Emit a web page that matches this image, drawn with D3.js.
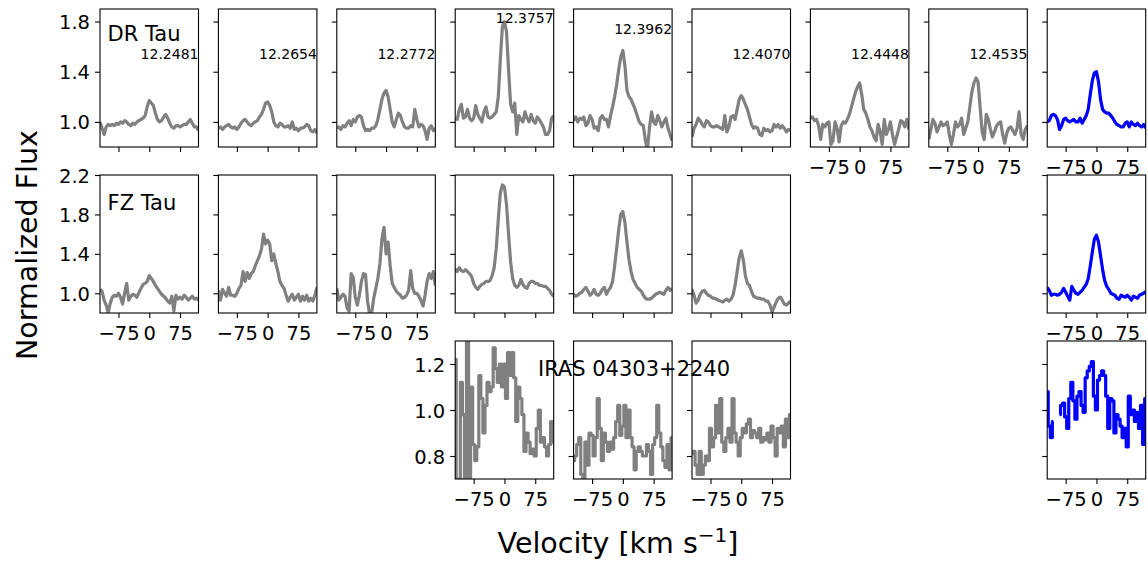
<!DOCTYPE html>
<html><head><meta charset="utf-8">
<script src="https://cdn.jsdelivr.net/npm/d3@7"></script>
<style>
body{margin:0;background:#fff}
svg{display:block}
text{font-family:"DejaVu Sans",sans-serif;fill:#000}
</style>
</head><body>
<svg id="chart" width="1148" height="565"></svg>
<script>
// ---------- data ----------
const velocity = [-120,-115,-110,-105,-100,-95,-90,-85,-80,-75,-70,-65,-60,-55,-50,-45,-40,-35,-30,-25,-20,-15,-10,-5,0,5,10,15,20,25,30,35,40,45,50,55,60,65,70,75,80,85,90,95,100,105,110,115,120];

const wavelengths = ["12.2481","12.2654","12.2772","12.3757","12.3962","12.4070","12.4448","12.4535"];
const wavelengthLabelFlux = [1.5,1.5,1.5,1.785,1.70,1.5,1.5,1.5];
const stars = ["DR Tau","FZ Tau","IRAS 04303+2240"];
const xTicks = [-75,0,75];
const yTicksDR = [1.0,1.4,1.8];
const yTicksFZ = [1.0,1.4,1.8,2.2];
const yTicksIRAS = [0.8,1.0,1.2];
const yDomainDR = [0.8,1.9];
const yDomainFZ = [0.8,2.2];
const yDomainIRAS = [0.7,1.3];
const xDomain = [-120,120];

// DR Tau
const dr_12_2481 = [1.00,0.95,0.90,0.96,0.98,0.97,0.98,0.97,0.99,0.98,1.00,0.99,1.01,1.00,0.98,0.97,0.99,0.98,1.00,1.01,1.02,1.03,1.05,1.12,1.17,1.15,1.13,1.07,1.02,1.00,1.01,1.04,1.06,1.03,0.99,0.96,0.95,0.97,0.97,0.96,0.97,0.98,0.98,1.00,1.02,0.99,0.96,0.96,0.93];
const dr_12_2654 = [0.95,0.96,0.94,0.96,0.97,0.98,0.96,0.95,0.96,0.94,0.96,0.99,1.01,1.02,1.00,0.98,0.97,0.99,1.00,1.01,1.04,1.06,1.10,1.15,1.16,1.13,1.08,1.00,0.97,0.96,0.99,0.98,0.96,0.96,0.97,0.95,1.00,0.94,0.95,0.93,0.95,0.95,0.96,0.98,0.97,0.93,0.92,0.94,0.91];
const dr_12_2772 = [0.95,0.96,0.94,0.97,0.96,0.99,1.01,0.97,1.02,1.00,1.04,1.05,1.04,0.97,0.93,0.94,0.93,0.95,0.95,0.97,1.02,1.10,1.18,1.23,1.25,1.20,1.10,1.00,0.96,1.02,1.07,1.05,1.00,0.96,0.95,0.95,0.97,0.96,1.10,1.02,0.96,0.98,0.97,0.93,0.86,0.95,0.97,0.93,0.95];
const dr_12_3757 = [1.03,1.02,1.10,1.14,1.03,1.04,1.10,1.03,1.01,1.03,1.13,1.06,1.03,1.00,1.08,1.12,1.04,1.03,1.04,1.06,1.08,1.20,1.50,1.76,1.80,1.72,1.42,1.14,1.08,1.15,0.90,1.05,1.02,1.00,1.08,1.03,1.00,1.06,1.01,0.99,1.04,1.02,0.99,0.96,0.90,0.90,0.93,1.03,1.05];
const dr_12_3962 = [1.01,1.04,1.00,1.03,1.02,1.04,0.97,0.99,1.05,1.02,0.95,0.96,0.93,1.03,1.05,1.02,1.02,0.96,1.05,1.12,1.20,1.30,1.42,1.52,1.57,1.45,1.25,1.20,1.18,1.14,1.10,1.05,1.00,0.98,0.97,0.85,0.78,0.96,1.08,1.00,0.98,1.05,1.01,0.96,1.00,1.03,0.95,0.90,0.85];
const dr_12_4070 = [0.88,0.95,0.98,1.03,1.01,0.98,0.96,1.01,1.00,0.97,0.96,0.96,0.97,0.96,0.95,0.94,1.05,0.92,0.96,1.04,1.05,1.02,1.10,1.18,1.21,1.18,1.14,1.10,1.04,0.98,0.95,0.96,0.95,0.90,0.89,0.95,0.93,0.94,0.92,0.93,0.98,0.96,0.98,0.95,0.97,0.95,0.92,0.94,0.93];
const dr_12_4448 = [1.03,1.04,1.01,1.02,0.97,0.86,0.98,0.96,0.99,1.00,0.82,0.85,1.00,0.95,0.84,0.97,1.00,0.99,1.02,1.06,1.12,1.18,1.24,1.28,1.31,1.22,1.10,1.07,1.02,0.96,0.93,0.88,0.85,0.98,0.92,0.82,1.02,0.90,0.94,1.00,0.90,0.82,0.88,0.94,1.01,1.00,0.96,1.02,0.94];
const dr_12_4535 = [0.86,0.94,1.02,0.99,0.92,0.96,1.00,0.97,0.98,1.00,0.90,0.82,0.90,1.00,0.96,0.98,1.03,0.90,0.95,1.00,1.12,1.24,1.31,1.35,1.32,1.12,0.92,0.86,1.06,1.02,0.94,0.88,0.92,0.97,0.99,1.00,0.90,0.83,0.91,0.95,0.96,0.93,0.90,0.95,1.08,0.90,0.86,0.94,0.97];
const dr_mean = [1.00,1.01,1.05,1.06,1.05,1.02,0.94,0.97,1.02,1.03,1.01,1.00,1.01,1.02,1.00,1.00,1.03,0.99,1.02,1.05,1.10,1.22,1.33,1.39,1.40,1.32,1.18,1.10,1.08,1.07,1.07,1.05,1.03,1.00,0.98,0.97,0.96,0.96,0.99,1.00,0.96,1.00,0.98,0.97,0.99,0.97,0.96,0.98,0.95];

// FZ Tau
const fz_12_2481 = [1.04,1.02,0.93,0.88,0.80,0.90,0.96,0.98,0.97,1.00,0.96,0.89,1.00,1.10,0.93,0.97,0.99,0.98,0.96,1.01,1.05,1.09,1.10,1.12,1.18,1.15,1.12,1.08,1.05,1.02,0.99,0.97,0.95,0.92,0.90,0.97,0.82,0.98,0.94,0.96,0.94,0.98,0.96,0.93,0.95,0.97,0.94,0.95,0.93];
const fz_12_2654 = [1.03,0.93,1.04,1.00,0.97,1.06,0.98,0.98,0.97,1.00,1.05,1.08,1.22,1.12,1.21,1.15,1.20,1.22,1.28,1.33,1.38,1.45,1.60,1.50,1.54,1.50,1.33,1.40,1.30,1.22,1.12,1.08,1.05,0.98,0.92,0.96,0.99,0.93,0.96,0.99,0.92,0.97,0.93,0.98,0.92,0.95,0.92,0.98,1.06];
const fz_12_2772 = [1.05,0.93,0.96,0.99,0.97,0.85,0.82,1.20,1.16,0.96,0.88,0.98,1.12,1.20,1.19,0.92,0.78,0.80,0.95,1.05,1.15,1.30,1.55,1.67,1.40,1.52,1.28,1.10,1.06,1.02,1.00,0.98,0.95,0.96,0.98,1.03,1.23,1.05,1.00,1.00,0.97,0.93,0.87,0.98,1.12,1.20,1.15,1.22,1.08];
const fz_12_3757 = [1.25,1.22,1.26,1.23,1.22,1.24,1.22,1.20,1.17,1.10,1.06,1.04,1.07,1.09,1.10,1.12,1.12,1.13,1.18,1.26,1.45,1.75,2.02,2.10,2.08,1.90,1.60,1.32,1.15,1.08,1.06,1.08,1.14,1.09,1.06,1.05,1.10,1.12,1.12,1.10,1.10,1.08,1.08,1.07,1.07,1.05,1.03,0.99,0.97];
const fz_12_3962 = [0.99,0.97,0.98,1.00,1.01,1.04,1.06,1.02,0.98,1.00,1.04,0.99,0.98,1.00,1.04,1.06,0.99,1.03,1.06,1.12,1.28,1.46,1.65,1.80,1.83,1.72,1.52,1.34,1.22,1.14,1.10,1.06,1.04,1.02,0.98,0.95,0.94,0.94,0.95,0.97,0.99,1.00,1.01,1.00,0.99,1.03,1.06,1.03,1.05];
const fz_12_4070 = [1.04,0.98,0.90,0.93,0.99,1.02,1.03,1.00,0.98,0.97,0.95,0.95,0.94,0.93,0.92,0.91,0.93,0.94,0.92,0.94,0.98,1.08,1.22,1.36,1.43,1.34,1.18,1.10,1.08,1.02,0.97,0.96,0.95,0.95,0.94,0.94,0.92,0.92,0.88,0.81,0.86,0.91,0.95,0.96,0.93,0.89,0.88,0.90,0.92];
const fz_mean = [1.06,1.03,0.98,0.99,0.99,0.98,0.99,1.01,1.05,1.01,0.97,0.93,1.07,1.03,1.00,0.99,1.01,1.03,1.06,1.09,1.15,1.28,1.42,1.55,1.59,1.52,1.38,1.24,1.13,1.07,1.04,1.00,0.99,0.98,0.95,0.94,0.98,0.97,0.96,0.98,0.96,0.93,0.97,0.96,0.95,0.98,0.99,1.00,1.02];

// IRAS 04303+2240
const iras_12_3757 = [1.22,0.70,0.70,1.12,0.98,0.70,1.30,0.70,1.10,0.85,0.78,0.84,1.15,1.05,0.90,1.02,1.12,1.08,1.10,1.27,1.18,1.12,1.20,1.10,1.20,1.05,1.25,1.15,1.25,1.14,0.95,1.10,1.05,0.98,0.82,0.90,0.86,0.81,0.83,0.80,0.92,1.00,0.86,0.88,0.84,0.80,0.85,0.95,0.86];
const iras_12_3962 = [0.78,0.80,0.85,0.88,0.72,0.70,0.86,0.76,0.90,0.89,0.80,0.88,1.05,0.92,0.78,0.90,0.86,0.82,0.86,0.83,0.88,0.95,1.02,0.89,0.93,1.02,0.88,1.00,0.88,0.84,0.74,0.82,0.84,0.82,0.80,0.80,0.85,0.82,0.72,0.85,0.88,1.02,0.90,0.84,0.78,0.75,0.85,0.74,0.88];
const iras_12_4070 = [0.81,0.82,0.76,0.72,0.82,0.72,0.76,0.80,0.78,0.92,0.84,0.88,1.02,0.90,1.05,0.86,0.82,0.88,0.92,0.86,1.05,0.90,0.86,0.80,0.88,0.92,0.90,0.94,0.96,0.88,0.91,0.90,0.88,0.92,0.86,0.88,0.87,0.90,0.86,0.93,0.88,0.80,0.92,0.90,0.93,0.84,0.96,0.88,0.98];
const iras_mean = [1.08,0.93,0.88,0.95,null,null,0.98,1.02,1.03,0.97,0.92,1.05,1.12,1.04,0.96,1.06,1.08,1.02,0.99,1.14,1.17,1.19,1.21,1.06,1.00,1.13,1.15,1.17,1.15,1.06,0.92,1.05,1.04,0.90,0.98,0.96,0.93,0.88,0.92,0.84,1.06,0.98,1.00,0.95,0.99,0.92,1.02,0.85,1.05];

// ---------- layout ----------
const GREY = "#808080", BLUE = "#0000ff";
const colLeft0 = 100, colStep = 118.4, panelW = 98.5;
const rowTop0 = 9, rowStep = 166, panelH = 138;

const rows = [
  {star: stars[0], domain: yDomainDR, ticks: yTicksDR, labelFrac: 0.768, curve: d3.curveLinear,
   series: [dr_12_2481,dr_12_2654,dr_12_2772,dr_12_3757,dr_12_3962,dr_12_4070,dr_12_4448,dr_12_4535,null], mean: dr_mean,
   xLabelCols: [6,7,8], yLabelCol: 0},
  {star: stars[1], domain: yDomainFZ, ticks: yTicksFZ, labelFrac: 0.75, curve: d3.curveLinear,
   series: [fz_12_2481,fz_12_2654,fz_12_2772,fz_12_3757,fz_12_3962,fz_12_4070,null,null], mean: fz_mean,
   xLabelCols: [0,1,2,8], yLabelCol: 0},
  {star: stars[2], domain: yDomainIRAS, ticks: yTicksIRAS, labelFrac: 0.743, curve: d3.curveStep,
   series: [null,null,null,iras_12_3757,iras_12_3962,iras_12_4070,null,null], mean: iras_mean,
   xLabelCols: [3,4,5,8], yLabelCol: 3, starLabelCol: 3, starLabelX: 0.84}
];

const svg = d3.select("#chart");
const defs = svg.append("defs");
const fmtY = d3.format(".1f");
const fmtX = d3.format("d");

let clipId = 0;
rows.forEach((row, r) => {
  const top = rowTop0 + r * rowStep;
  const y = d3.scaleLinear().domain(row.domain).range([top + panelH, top]);
  const cols = [];
  for (let c = 0; c < 9; c++) {
    const data = c === 8 ? row.mean : row.series[c];
    if (data) cols.push({c, data, color: c === 8 ? BLUE : GREY});
  }
  cols.forEach(({c, data, color}) => {
    const left = colLeft0 + c * colStep;
    const x = d3.scaleLinear().domain(xDomain).range([left, left + panelW]);
    const g = svg.append("g");
    const id = "clip" + (clipId++);
    defs.append("clipPath").attr("id", id).append("rect")
      .attr("x", left).attr("y", top).attr("width", panelW).attr("height", panelH);

    const pts = velocity.map((v, i) => [v, data[i]]);
    const line = d3.line().defined(d => d[1] != null)
      .x(d => x(d[0])).y(d => y(d[1])).curve(row.curve);
    g.append("path").attr("d", line(pts)).attr("clip-path", `url(#${id})`)
      .attr("fill", "none").attr("stroke", color).attr("stroke-width", 3.2)
      .attr("stroke-linejoin", "round");

    // axes
    const showX = row.xLabelCols.includes(c);
    const xa = d3.axisBottom(x).tickValues(xTicks).tickSize(5).tickPadding(5)
      .tickFormat(showX ? fmtX : () => "");
    const gx = g.append("g").attr("transform", `translate(0,${top + panelH})`).call(xa);
    const showY = c === row.yLabelCol;
    const ya = d3.axisLeft(y).tickValues(row.ticks).tickSize(5).tickPadding(5)
      .tickFormat(showY ? fmtY : () => "");
    const gy = g.append("g").attr("transform", `translate(${left},0)`).call(ya);
    [gx, gy].forEach(a => {
      a.select(".domain").remove();
      a.selectAll(".tick line").attr("stroke", "#000").attr("stroke-width", 1.1);
      a.selectAll(".tick text").attr("font-family", "DejaVu Sans").attr("font-size", 19.5).attr("fill", "#000");
    });
    gx.selectAll(".tick text").attr("dy", null).attr("y", 27).attr("dominant-baseline", "auto");
    gy.selectAll(".tick text").attr("dy", "0.36em");

    // frame
    g.append("rect").attr("x", left).attr("y", top).attr("width", panelW).attr("height", panelH)
      .attr("fill", "none").attr("stroke", "#000").attr("stroke-width", 1.1);

    // wavelength labels (first row)
    if (r === 0 && c < 8) {
      g.append("text").attr("x", x(xDomain[1])).attr("y", y(wavelengthLabelFlux[c]))
        .attr("text-anchor", "end").attr("font-size", 14).text(wavelengths[c]);
    }
  });
  // star label
  const sc = row.starLabelCol != null ? row.starLabelCol : 0;
  const sx = row.starLabelX != null ? row.starLabelX : 0.077;
  svg.append("text")
    .attr("x", colLeft0 + sc * colStep + sx * panelW)
    .attr("y", top + panelH * (1 - row.labelFrac))
    .attr("font-size", 21).text(row.star);
});

// axis titles
svg.append("text").attr("transform", "translate(37,245) rotate(-90)")
  .attr("text-anchor", "middle").attr("font-size", 28.5).text("Normalized Flux");
const xt = svg.append("text").attr("x", 618).attr("y", 553).attr("text-anchor", "middle").attr("font-size", 28.5);
xt.append("tspan").text("Velocity [km s");
xt.append("tspan").attr("font-size", 20).attr("dy", -11).text("\u22121");
xt.append("tspan").attr("dy", 11).text("]");
</script>
</body></html>
